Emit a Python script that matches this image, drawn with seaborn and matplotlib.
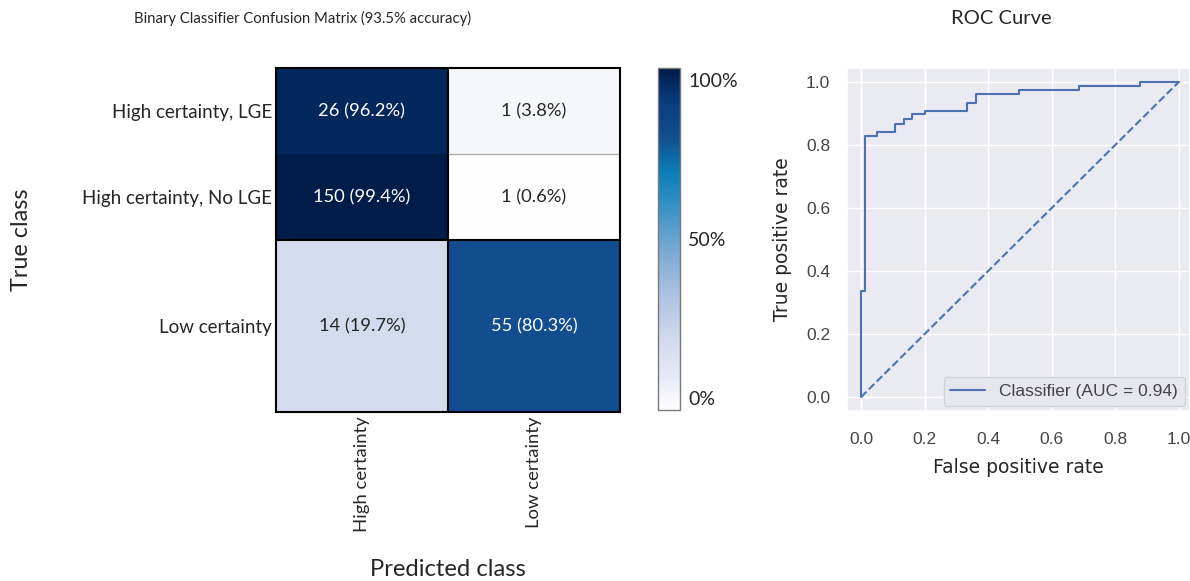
import numpy as np
import pandas as pd
import matplotlib
matplotlib.use("Agg")
import matplotlib.pyplot as plt
from matplotlib.colors import LinearSegmentedColormap
import seaborn as sns

# ---- confusion matrix data ----
true_classes = ["High certainty, LGE", "High certainty, No LGE", "Low certainty"]
pred_classes = ["High certainty", "Low certainty"]
counts = [[26, 1], [150, 1], [14, 55]]
percents = [[96.2, 3.8], [99.4, 0.6], [19.7, 80.3]]
accuracy = 93.5

# ---- ROC curve data ----
fpr = [0.0, 0.0, 0.014, 0.014, 0.049, 0.049, 0.108, 0.108, 0.134, 0.134,
       0.161, 0.161, 0.200, 0.200, 0.335, 0.335, 0.363, 0.363, 0.497, 0.497,
       0.686, 0.686, 0.879, 0.879, 1.0]
tpr = [0.0, 0.336, 0.336, 0.827, 0.827, 0.840, 0.840, 0.867, 0.867, 0.883,
       0.883, 0.897, 0.897, 0.908, 0.908, 0.934, 0.934, 0.960, 0.960, 0.973,
       0.973, 0.987, 0.987, 1.0, 1.0]
auc = 0.94

sns.set_theme(style="white")
plt.rcParams["font.family"] = ["Lato", "DejaVu Sans"]

W, H = 1190, 581
fig = plt.figure(figsize=(W / 100, H / 100), dpi=100)


def box(x0, y0, x1, y1):
    return [x0 / W, 1 - y1 / H, (x1 - x0) / W, (y1 - y0) / H]


cmap = LinearSegmentedColormap.from_list(
    "cm_blues",
    [(0.00, "#ffffff"), (0.10, "#e6e9f5"), (0.20, "#d4daee"),
     (0.35, "#a8bfdf"), (0.50, "#6aa3cf"), (0.62, "#2a8cc2"),
     (0.70, "#0a7cb6"), (0.80, "#124e90"), (0.90, "#0a3c80"),
     (0.96, "#02295f"), (1.00, "#001b46")])

# low-certainty row spans two units, the two high-certainty rows one each
row_units = [1, 1, 2]
frac = np.array(percents) / 100.0
grid = pd.DataFrame(np.repeat(frac, row_units, axis=0), columns=pred_classes)

ax = fig.add_axes(box(276, 68, 620, 412))
cax = fig.add_axes(box(658, 68, 680, 410))
sns.heatmap(grid, ax=ax, cbar_ax=cax, cmap=cmap, vmin=0, vmax=1,
            xticklabels=pred_classes, yticklabels=False, cbar=True)

edges = np.concatenate([[0], np.cumsum(row_units)])
centers = (edges[:-1] + edges[1:]) / 2
ax.set_yticks(centers)
ax.set_yticklabels(true_classes, fontsize=13.5, color="#262626")
ax.set_xticklabels(pred_classes, rotation=90, fontsize=13.3, color="#262626")
ax.tick_params(length=0, pad=3)

for i, yc in enumerate(centers):
    for j in range(len(pred_classes)):
        p = percents[i][j]
        ax.text(j + 0.5, yc, f"{counts[i][j]} ({p}%)", ha="center", va="center",
                fontsize=13.2, color="white" if p > 60 else "#262626")

ax.hlines(edges[1], 1, 2, color="#a8a8a8", lw=0.9)
ax.axhline(edges[2], color="black", lw=1.5)
ax.axvline(1, color="black", lw=1.5)
for s in ax.spines.values():
    s.set_visible(True)
    s.set_color("black")
    s.set_linewidth(1.5)

cb = ax.collections[0].colorbar
cb.set_ticks([0.035, 0.5, 0.965])
cb.set_ticklabels(["0%", "50%", "100%"])
cb.ax.tick_params(length=0, labelsize=14, labelcolor="#262626", pad=6)
cb.outline.set_edgecolor("#7a7a7a")
cb.outline.set_linewidth(1.0)

fig.text(303 / W, 1 - 18 / H, f"Binary Classifier Confusion Matrix ({accuracy}% accuracy)",
         ha="center", va="center", fontsize=10.7, color="#262626")
fig.text(22 / W, 1 - 240 / H, "True class", rotation=90, ha="center", va="center",
         fontsize=16.8, color="#262626")
fig.text(448 / W, 1 - 569 / H, "Predicted class", ha="center", va="center",
         fontsize=17.2, color="#262626")

# ---- ROC panel ----
with sns.axes_style("darkgrid"):
    ax2 = fig.add_axes(box(847, 68, 1190, 411))
sns.lineplot(x=fpr, y=tpr, ax=ax2, sort=False, estimator=None, color="#4c72b0",
             lw=1.5, label=f"Classifier (AUC = {auc})")
sns.lineplot(x=[0, 1], y=[0, 1], ax=ax2, sort=False, estimator=None, color="#4c72b0",
             lw=1.5, linestyle="--")
ax2.set_xlim(-0.044, 1.035)
ax2.set_ylim(-0.044, 1.044)
ax2.set_xticks(np.linspace(0, 1, 6))
ax2.set_yticks(np.linspace(0, 1, 6))
for lab in ax2.get_xticklabels() + ax2.get_yticklabels():
    lab.set_fontfamily("Liberation Sans")
    lab.set_fontsize(12.5)
    lab.set_color("#444444")
ax2.tick_params(axis="both", length=0)
ax2.tick_params(axis="x", pad=15)
ax2.tick_params(axis="y", pad=12)
ax2.set_xlabel("False positive rate", fontsize=13.5, color="#262626", labelpad=8)
ax2.set_ylabel("True positive rate", fontsize=13.5, color="#262626", labelpad=10)
leg = ax2.legend(loc="lower right", borderaxespad=0.3,
                 prop={"family": "Liberation Sans", "size": 12.5},
                 facecolor="#e6e6ee", edgecolor="#d2d2da", framealpha=1)
for t in leg.get_texts():
    t.set_color("#444444")
fig.text(1001 / W, 1 - 18 / H, "ROC Curve", ha="center", va="center",
         fontsize=14.5, color="#262626")

fig.savefig("out.png", dpi=100)
